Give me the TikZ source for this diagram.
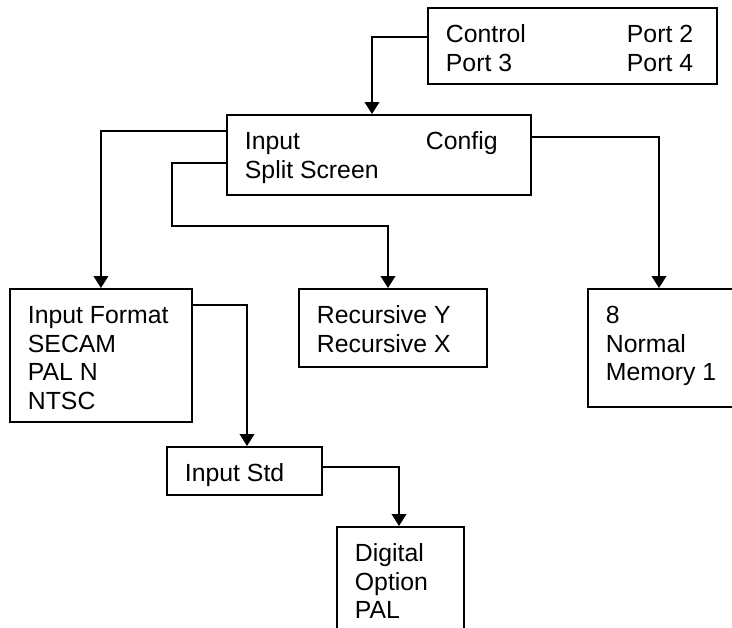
\documentclass[tikz,border=0pt]{standalone}
\usepackage{fontspec}
\setmainfont{Liberation Sans}
\usepackage{tikz}
\usetikzlibrary{calc,arrows.meta}

% text of a box: width, height, lines
\newcommand{\panel}[3]{\parbox[c][#2][t]{#1}{\leftskip=13.5pt\vspace*{10.8pt}\strut #3}}
\newcommand{\twocol}[2]{\makebox[135.75pt][l]{#1}#2}

\tikzset{
	box/.style={draw, line width=1.4pt, inner sep=0pt, anchor=north west, font=\fontsize{18.6}{21.5}\selectfont},
	link/.style={line width=1.3pt, -{Triangle[width=11pt,length=9pt]}}
}

\begin{document}
\begin{tikzpicture}[x=0.75pt,y=-0.75pt]
	    \useasboundingbox (0,0) rectangle (732,628);
	    \clip (0,0) rectangle (732,628);
	    \node[box] (ctrl) at (427,7) {\panel{216.75pt}{57pt}{\twocol{Control}{Port 2}\\ \twocol{Port 3}{Port 4}}};
	    \node[box] (input) at (226,114) {\panel{228pt}{60pt}{\twocol{Input}{Config}\\ Split Screen}};
	    \node[box] (fmt) at (9,288) {\panel{136.5pt}{99.75pt}{Input Format\\ SECAM\\ PAL N\\ NTSC}};
	    \node[box] (rec) at (298,288) {\panel{141pt}{58.5pt}{Recursive Y\\ Recursive X}};
	    \node[box] (mem) at (587,288) {\panel{150pt}{88.5pt}{8\\ Normal\\ Memory 1}}; % runs off the right edge
	    \node[box] (std) at (166,446) {\panel{116.25pt}{36pt}{Input Std}};
	    \node[box] (dig) at (336,526) {\panel{95.25pt}{105pt}{Digital\\ Option\\ PAL}}; % runs off the bottom
	    % connectors
	    \draw[link] ($(ctrl.north west)+(0,30)$) -| ($(input.north west)+(146,0)$);
	    \draw[link] ($(input.north west)+(0,17)$) -| (fmt.north);
	    \draw[link] ($(input.north west)+(0,49)$) -- ++(-54,0) -- ++(0,63) -| ($(rec.north west)+(90,0)$);
	    \draw[link] ($(input.north east)+(0,23)$) -| ($(mem.north west)+(72,0)$);
	    \draw[link] ($(fmt.north east)+(0,17)$) -| ($(std.north west)+(81,0)$);
	    \draw[link] ($(std.north east)+(0,21)$) -| ($(dig.north west)+(63,0)$);
\end{tikzpicture}
\end{document}
